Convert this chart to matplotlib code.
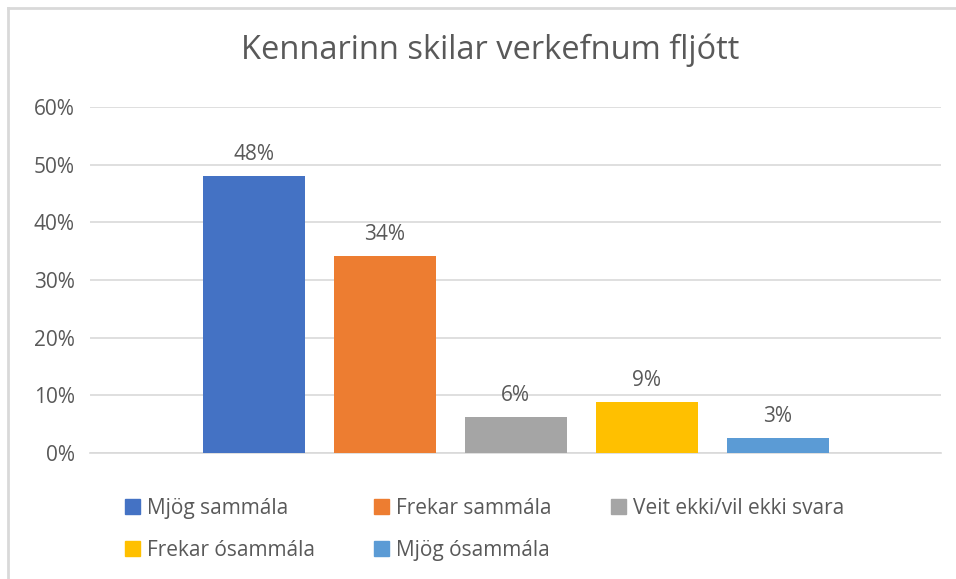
import matplotlib
matplotlib.use("Agg")
import matplotlib.pyplot as plt
from matplotlib.patches import Patch
from matplotlib.lines import Line2D
from matplotlib.ticker import FuncFormatter

plt.rcParams['font.family'] = ['Open Sans', 'DejaVu Sans']

title = "Kennarinn skilar verkefnum fljótt"
series = ["Mjög sammála", "Frekar sammála", "Veit ekki/vil ekki svara",
          "Frekar ósammála", "Mjög ósammála"]
values = [0.480, 0.341, 0.062, 0.088, 0.026]
colors = ["#4472C4", "#ED7D31", "#A5A5A5", "#FFC000", "#5B9BD5"]
yticks = [0, 0.1, 0.2, 0.3, 0.4, 0.5, 0.6]

W, H = 956, 579
fig = plt.figure(figsize=(W / 100, H / 100), dpi=100)
ax = fig.add_axes([90 / W, (H - 453) / H, (941 - 90) / W, (453 - 107) / H])

step = 131 / 851
width = 102 / 851
n = len(values)
handles = []
for i, (s, v, c) in enumerate(zip(series, values, colors)):
    x = (i - (n - 1) / 2) * step
    ax.bar(x, v, width=width, color=c, zorder=3)
    ax.annotate(f"{round(v * 100):.0f}%", (x, v), xytext=(0, 8),
                textcoords="offset points", ha="center", va="bottom",
                fontsize=15, color="#595959")
    handles.append(Patch(facecolor=c, edgecolor=c, label=s))

ax.set_xlim(-0.5, 0.5)
ax.set_ylim(0, 0.6)
ax.set_yticks(yticks)
ax.yaxis.set_major_formatter(FuncFormatter(lambda v, p: f"{v * 100:.0f}%"))
ax.set_xticks([])
ax.grid(axis="y", color="#D9D9D9", linewidth=1.2, zorder=0)
for sp in ["top", "right", "left"]:
    ax.spines[sp].set_visible(False)
ax.spines["bottom"].set_color("#D9D9D9")
ax.spines["bottom"].set_linewidth(1.2)
ax.tick_params(axis="y", length=0, labelsize=15, labelcolor="#595959", pad=11)

fig.text(490 / W, 1 - 50 / H, title, ha="center", va="center",
         fontsize=23.5, color="#595959")

order = [0, 3, 1, 4, 2]
leg = fig.legend([handles[i] for i in order], [series[i] for i in order],
                 ncol=3, loc="upper left", bbox_to_anchor=(125 / W, 1 - 498 / H),
                 frameon=False, fontsize=15, labelcolor="#595959",
                 handlelength=0.7, handleheight=0.7, handletextpad=0.35,
                 columnspacing=2.85, labelspacing=1.0, borderaxespad=0, borderpad=0)

fig.add_artist(Line2D([8 / W, 8 / W], [0, 1 - 8 / H], color="#D9D9D9", linewidth=2,
                      transform=fig.transFigure))
fig.add_artist(Line2D([8 / W, 1], [1 - 8 / H, 1 - 8 / H], color="#D9D9D9", linewidth=2,
                      transform=fig.transFigure))

fig.savefig("out.png", dpi=100)
